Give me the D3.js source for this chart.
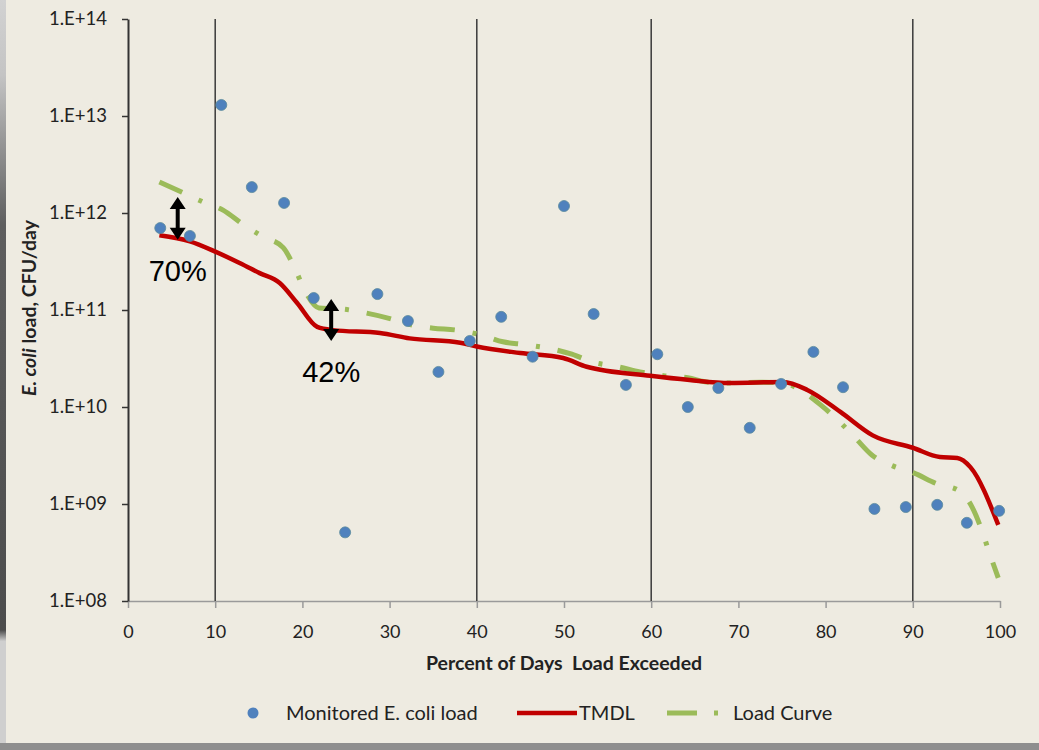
<!DOCTYPE html>
<html>
<head>
<meta charset="utf-8">
<script src="https://cdn.jsdelivr.net/npm/d3@7"></script>
<style>
  body { margin: 0; background: #eeebe1; }
  svg { display: block; }
  .tick text { font-family: Lato, "Open Sans", sans-serif; fill: #222; }
</style>
</head>
<body>
<div id="chart"></div>
<script>
// monitored loads (percent of days exceeded, CFU/day)
const obsPct = [3.7, 7.1, 10.7, 14.2, 17.9, 21.3, 24.9, 28.6, 32.1, 35.6, 39.2, 42.8, 46.4, 50.0,
  53.4, 57.1, 60.7, 64.2, 67.7, 71.3, 74.9, 78.6, 82.0, 85.6, 89.2, 92.8, 96.2, 99.9]
const obsLoad = [7.0e11, 5.8e11, 1.3e13, 1.85e12, 1.27e12, 1.33e11, 5.1e8, 1.46e11, 7.7e10, 2.3e10,
  4.8e10, 8.5e10, 3.3e10, 1.18e12, 9.1e10, 1.69e10, 3.5e10, 1.0e10, 1.57e10, 6.1e9, 1.73e10,
  3.7e10, 1.6e10, 8.9e8, 9.3e8, 9.8e8, 6.4e8, 8.5e8]

// TMDL curve
const tmdlPct = [3.6, 7.1, 10, 12.8, 15.1, 17.4, 19.4, 21.7, 23.5, 28.9, 32.3, 38.1, 40, 45, 49.9,
  52.6, 59.9, 64.4, 69, 75.1, 77.9, 81.7, 85.4, 90, 93.1, 95.1, 96.6, 99.8]
const tmdlLoad = [5.9e11, 5.1e11, 4.0e11, 3.05e11, 2.4e11, 1.9e11, 1.18e11, 6.7e10, 6.2e10, 5.8e10,
  5.1e10, 4.6e10, 4.2e10, 3.6e10, 3.2e10, 2.6e10, 2.1e10, 1.9e10, 1.77e10, 1.81e10, 1.5e10,
  8.9e9, 5.1e9, 3.8e9, 3.05e9, 2.98e9, 2.4e9, 6.1e8]

// load duration curve
const curvePct = [3.6, 6.2, 8.6, 10.9, 13.3, 15.5, 17.8, 19.2, 20.3, 21.9, 24.7, 27.3, 29.7, 32.6,
  35.0, 37.7, 40.6, 43.0, 45.5, 48.4, 50.9, 53.3, 56.2, 58.7, 61.4, 64.2, 66.6, 69.4, 72.5, 75.1,
  77.1, 79.6, 81.5, 83.4, 85.3, 87.7, 90.1, 92.8, 95.2, 96.8, 97.9, 98.7, 99.8]
const curveLoad = [2.09e12, 1.64e12, 1.30e12, 1.07e12, 7.5e11, 5.7e11, 4.4e11, 2.6e11, 1.57e11,
  1.05e11, 1.02e11, 9.3e10, 8.3e10, 7.0e10, 6.5e10, 6.2e10, 5.5e10, 4.7e10, 4.4e10, 4.0e10,
  3.5e10, 2.9e10, 2.6e10, 2.3e10, 2.1e10, 2.0e10, 1.8e10, 1.77e10, 1.8e10, 1.77e10, 1.5e10,
  1.02e10, 7.2e9, 4.8e9, 3.2e9, 2.47e9, 2.09e9, 1.61e9, 1.39e9, 9.3e8, 5.4e8, 3.3e8, 1.73e8]

const xTicks = [0, 10, 20, 30, 40, 50, 60, 70, 80, 90, 100]
const yTicks = [1e8, 1e9, 1e10, 1e11, 1e12, 1e13, 1e14]
const zoneLines = [10, 40, 60, 90]

// reduction arrows
const arrowPct = [5.7, 23.3]
const arrowTop = [1.46e12, 1.3e11]
const arrowBottom = [5.3e11, 4.8e10]
const arrowLabels = ['70%', '42%']

const width = 1039, height = 750

const svg = d3.select('#chart').append('svg')
  .attr('width', width)
  .attr('height', height)

// frame edges of the screenshot
const grad = svg.append('defs').append('linearGradient')
  .attr('id', 'edge').attr('x1', 0).attr('x2', 0).attr('y1', 0).attr('y2', 1)
grad.selectAll('stop')
  .data([[0, '#d2d2d2'], [0.1, '#c4c4c4'], [0.3, '#5e5e5e'], [0.84, '#4c4c4c'], [0.855, '#cfcfcf'], [1, '#cfcfcf']])
  .join('stop')
  .attr('offset', d => d[0])
  .attr('stop-color', d => d[1])
svg.append('rect').attr('x', 0).attr('y', 0).attr('width', 6).attr('height', height).attr('fill', 'url(#edge)')
svg.append('rect').attr('x', 0).attr('y', 743).attr('width', width).attr('height', 7).attr('fill', '#8e8e8e')

const x = d3.scaleLinear().domain([0, 100]).range([128, 1000])
const y = d3.scaleLog().domain([1e8, 1e14]).range([601, 19])

// x axis
const xAxis = svg.append('g')
  .attr('transform', `translate(0,${y(1e8)})`)
  .call(d3.axisBottom(x).tickValues(xTicks).tickSize(7).tickSizeOuter(0).tickPadding(30).tickFormat(d3.format('d')))
xAxis.select('.domain').attr('stroke', '#9a9a9a').attr('stroke-width', 1.5)
xAxis.selectAll('.tick line').attr('stroke', '#9a9a9a').attr('stroke-width', 1.5)
xAxis.selectAll('.tick text').attr('font-size', 18).attr('dy', '0')

// zone lines
svg.append('g')
  .selectAll('line')
  .data(zoneLines)
  .join('line')
  .attr('x1', d => x(d)).attr('x2', d => x(d))
  .attr('y1', y(1e14)).attr('y2', y(1e8))
  .attr('stroke', '#3a3a3a')
  .attr('stroke-width', 1.5)

// y axis
const yAxis = svg.append('g')
  .attr('transform', `translate(${x(0)},0)`)
  .call(d3.axisLeft(y).tickValues(yTicks).tickSize(6).tickSizeOuter(0).tickPadding(15)
    .tickFormat(d => '1.E+' + String(Math.round(Math.log10(d))).padStart(2, '0')))
yAxis.select('.domain').attr('stroke', '#333').attr('stroke-width', 2)
yAxis.selectAll('.tick line').attr('stroke', '#333').attr('stroke-width', 1.5)
yAxis.selectAll('.tick text').attr('font-size', 18.5)

// axis titles
svg.append('text')
  .attr('x', 564).attr('y', 670)
  .attr('text-anchor', 'middle')
  .attr('font-family', 'Lato, sans-serif')
  .attr('font-weight', 'bold')
  .attr('font-size', 19.5)
  .attr('fill', '#222')
  .attr('xml:space', 'preserve')
  .text('Percent of Days  Load Exceeded')

const yTitle = svg.append('text')
  .attr('transform', 'translate(36,308) rotate(-90)')
  .attr('text-anchor', 'middle')
  .attr('font-family', 'Lato, sans-serif')
  .attr('font-weight', 'bold')
  .attr('font-size', 19.5)
  .attr('fill', '#222')
yTitle.append('tspan').attr('font-style', 'italic').text('E. coli')
yTitle.append('tspan').text(' load, CFU/day')

// load curve
const curveData = curvePct.map((p, i) => [p, curveLoad[i]])
svg.append('path')
  .datum(curveData)
  .attr('fill', 'none')
  .attr('stroke', '#9bbb59')
  .attr('stroke-width', 5)
  .attr('stroke-dasharray', '25,18,4,18')
  .attr('d', d3.line().x(d => x(d[0])).y(d => y(d[1])).curve(d3.curveMonotoneX))

// TMDL
const tmdlData = tmdlPct.map((p, i) => [p, tmdlLoad[i]])
svg.append('path')
  .datum(tmdlData)
  .attr('fill', 'none')
  .attr('stroke', '#c00000')
  .attr('stroke-width', 4.5)
  .attr('stroke-linejoin', 'round')
  .attr('d', d3.line().x(d => x(d[0])).y(d => y(d[1])).curve(d3.curveMonotoneX))

// monitored points
svg.append('g')
  .selectAll('circle')
  .data(obsPct.map((p, i) => [p, obsLoad[i]]))
  .join('circle')
  .attr('cx', d => x(d[0]))
  .attr('cy', d => y(d[1]))
  .attr('r', 5.5)
  .attr('fill', '#4f81bd')
  .attr('stroke', '#5a8a9c')
  .attr('stroke-width', 0.8)

// double arrows with reduction labels
const arrowPath = (cx, y1, y2) => {
  const hw = 8, hh = 12, sw = 2
  return `M${cx},${y1} L${cx + hw},${y1 + hh} L${cx + sw},${y1 + hh} L${cx + sw},${y2 - hh} L${cx + hw},${y2 - hh}` +
    ` L${cx},${y2} L${cx - hw},${y2 - hh} L${cx - sw},${y2 - hh} L${cx - sw},${y1 + hh} L${cx - hw},${y1 + hh} Z`
}
const arrows = svg.append('g')
  .selectAll('g')
  .data(arrowPct.map((p, i) => ({ p, top: arrowTop[i], bottom: arrowBottom[i], label: arrowLabels[i] })))
  .join('g')
arrows.append('path')
  .attr('fill', '#000')
  .attr('d', d => arrowPath(x(d.p), y(d.top), y(d.bottom)))
arrows.append('text')
  .attr('x', d => x(d.p))
  .attr('y', d => y(d.bottom) + 41)
  .attr('text-anchor', 'middle')
  .attr('font-family', '"Liberation Sans", Arial, sans-serif')
  .attr('font-size', 29)
  .attr('fill', '#000')
  .text(d => d.label)

// legend
const legend = svg.append('g').attr('transform', 'translate(0,713)')
legend.append('circle').attr('cx', 253).attr('cy', 0).attr('r', 5.5).attr('fill', '#4f81bd')
legend.append('line').attr('x1', 517).attr('x2', 577).attr('y1', 0).attr('y2', 0)
  .attr('stroke', '#c00000').attr('stroke-width', 4.5)
legend.append('line').attr('x1', 667).attr('x2', 719).attr('y1', 0).attr('y2', 0)
  .attr('stroke', '#9bbb59').attr('stroke-width', 5).attr('stroke-dasharray', '30,17,4,20')
legend.selectAll('text')
  .data([[286, 'Monitored E. coli load'], [579, 'TMDL'], [733, 'Load Curve']])
  .join('text')
  .attr('x', d => d[0])
  .attr('y', 7)
  .attr('font-family', 'Lato, sans-serif')
  .attr('font-size', 20)
  .attr('fill', '#222')
  .text(d => d[1])
</script>
</body>
</html>
